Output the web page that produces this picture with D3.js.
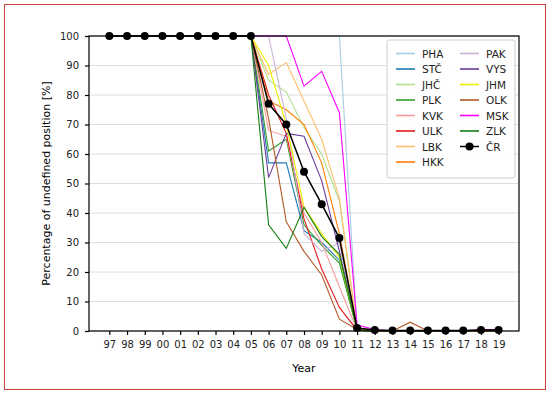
<!DOCTYPE html>
<html>
<head>
<meta charset="utf-8">
<script src="https://cdn.jsdelivr.net/npm/d3@7"></script>
<style>
body{margin:0;background:#fff;}
svg text{font-family:"DejaVu Sans",sans-serif;}
</style>
</head>
<body>
<div id="chart"></div>
<script>
(function(){
"use strict"
//---Percentage of undefined position by region---

var years = ["97","98","99","00","01","02","03","04","05","06","07","08","09","10","11","12","13","14","15","16","17","18","19"];

var PHA = [100,100,100,100,100,100,100,100,100,100,100,100,100,100,0.5,0,0,0,0,0,0,0,0];
var STC = [100,100,100,100,100,100,100,100,100,57,57,34,30,24,0.3,0,0,0,0,0,0,0,0];
var JHC = [100,100,100,100,100,100,100,100,100,85,81,69,60,44,0.5,0,0,0,0,0,0,0,0];
var PLK = [100,100,100,100,100,100,100,100,100,61,65,36,29,23,0.5,0,0,0,0,0,0,0,0];
var KVK = [100,100,100,100,100,100,100,100,100,68,66,40,30,15,0.3,0,0,0,0,0,0,0,0];
var ULK = [100,100,100,100,100,100,100,100,100,80,67,38,21,8,0.3,0,0,0,0,0,0,0,0];
var LBK = [100,100,100,100,100,100,100,100,100,87,91,78,65,45,1,0,0,0,0,0,0,0,0];
var HKK = [100,100,100,100,100,100,100,100,100,78,75,70,57,33,1,0,0,0,0,0,0,0,0];
var PAK = [100,100,100,100,100,100,100,100,100,100,72,33,27,30,0.3,0,0,0,0,0,0,0,0];
var VYS = [100,100,100,100,100,100,100,100,100,52,67,66,51,27,0.3,0,0,0,0,0,0,0,0];
var JHM = [100,100,100,100,100,100,100,100,100,90,70,42,33,25,0.5,0,0,0,0,0,0,0,0];
var OLK = [100,100,100,100,100,100,100,100,100,72,37,27,19,4,0.5,0,0,3,0,0,0,0,0];
var MSK = [100,100,100,100,100,100,100,100,100,100,100,83,88,74,2,0.5,0,0,0,0,0,0.5,0.5];
var ZLK = [100,100,100,100,100,100,100,100,100,36,28,42,32,26,0.3,0,0,0,0,0,0,0,0];
var CR  = [100,100,100,100,100,100,100,100,100,77,70,54,43,31.5,1,0.3,0.2,0.2,0.2,0.2,0.2,0.3,0.3];

var names  = ["PHA","STČ","JHČ","PLK","KVK","ULK","LBK","HKK","PAK","VYS","JHM","OLK","MSK","ZLK","ČR"];
var values = [PHA,STC,JHC,PLK,KVK,ULK,LBK,HKK,PAK,VYS,JHM,OLK,MSK,ZLK,CR];
var colors = ["#a6cee3","#1f78b4","#b2df8a","#33a02c","#fb9a99","#e31a1c","#fdbf6f","#ff7f00",
              "#cab2d6","#6a3d9a","#eeee00","#b15928","#ff00ff","#137f13","#000000"];
var yTicks = [0,10,20,30,40,50,60,70,80,90,100];

var W = 550, H = 394,
	margin = {top:36, right:31, bottom:63, left:89},
	width  = W - margin.left - margin.right,
	height = H - margin.top - margin.bottom;

var svg = d3.select('#chart').append('svg')
	.attr('width',W)
	.attr('height',H);

// outer frame
svg.append('rect')
	.attr('x',4.5).attr('y',4.5)
	.attr('width',W-9).attr('height',H-9)
	.style('fill','none')
	.style('stroke','#c9413b')
	.style('stroke-width',1);

var g = svg.append('g').attr('transform','translate('+margin.left+','+margin.top+')');

var x = d3.scaleLinear().domain([-1.15,23.15]).range([0,width]);
var y = d3.scaleLinear().domain([0,100]).range([height,0]);

// grid
g.selectAll('.grid').data(yTicks).enter()
	.append('line')
	.attr('x1',0).attr('x2',width)
	.attr('y1',function(d){return y(d);})
	.attr('y2',function(d){return y(d);})
	.style('stroke','#dedede')
	.style('stroke-width',1);

// axes
var xAxis = d3.axisBottom(x)
	.tickValues(d3.range(years.length))
	.tickFormat(function(i){return years[i];})
	.tickSize(4).tickPadding(6);
var yAxis = d3.axisLeft(y).tickValues(yTicks).tickSize(4).tickPadding(6);

g.append('g').attr('transform','translate(0,'+height+')').call(xAxis)
	.call(function(s){s.select('.domain').remove();});
g.append('g').call(yAxis)
	.call(function(s){s.select('.domain').remove();});
g.selectAll('.tick text').style('font-size','10px').style('fill','#222');
g.selectAll('.tick line').style('stroke','#000').style('stroke-width',1.2);

// lines
var line = d3.line()
	.x(function(d,i){return x(i);})
	.y(function(d){return y(d);});

values.forEach(function(v,k){
	g.append('path')
		.datum(v)
		.attr('d',line)
		.style('fill','none')
		.style('stroke',colors[k])
		.style('stroke-width',k===14?1.5:1.1);
});

g.selectAll('.dot').data(CR).enter()
	.append('circle')
	.attr('cx',function(d,i){return x(i);})
	.attr('cy',function(d){return y(d);})
	.attr('r',4)
	.style('fill','#000');

// frame of plot
g.append('rect')
	.attr('width',width).attr('height',height)
	.style('fill','none')
	.style('stroke','#000')
	.style('stroke-width',1.2);

// labels
svg.append('text')
	.attr('x',margin.left+width/2).attr('y',372)
	.attr('text-anchor','middle')
	.style('font-size','11px')
	.text('Year');
svg.append('text')
	.attr('transform','translate(50,'+(margin.top+height/2)+') rotate(-90)')
	.attr('text-anchor','middle')
	.style('font-size','11px')
	.text('Percentage of undefined position [%]');

// legend
var lg = svg.append('g');
lg.append('rect')
	.attr('x',387).attr('y',40)
	.attr('width',128).attr('height',138)
	.attr('rx',2)
	.style('fill','#fff')
	.style('fill-opacity',0.9)
	.style('stroke','#cccccc');

names.forEach(function(n,k){
	var col = k<8 ? 0 : 1,
		row = k<8 ? k : k-8,
		lx = col===0 ? 396 : 460,
		ly = 53.5 + row*15.5;
	lg.append('line')
		.attr('x1',lx).attr('x2',lx+19)
		.attr('y1',ly).attr('y2',ly)
		.style('stroke',colors[k])
		.style('stroke-width',k===14?1.5:1.6);
	if(k===14){
		lg.append('circle').attr('cx',lx+9.5).attr('cy',ly).attr('r',4).style('fill','#000');
	}
	lg.append('text')
		.attr('x',lx+26).attr('y',ly+4)
		.style('font-size','10.5px')
		.style('fill','#222')
		.text(n);
});

})();
</script>
</body>
</html>
